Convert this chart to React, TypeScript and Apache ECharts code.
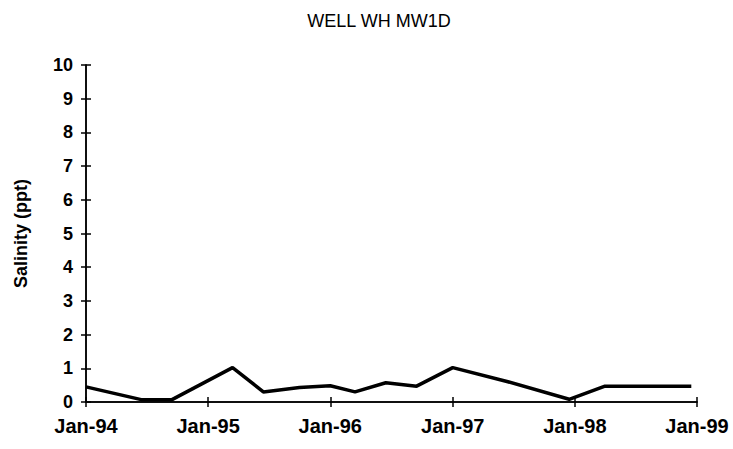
import React, { useEffect, useRef } from "react";
import * as echarts from "echarts";

const sampleDates = [
  "1994-01-01", "1994-06-15", "1994-09-15", "1995-03-15", "1995-06-15",
  "1995-10-01", "1996-01-01", "1996-03-15", "1996-06-15", "1996-09-15",
  "1997-01-01", "1997-06-15", "1997-12-15", "1998-04-01", "1998-12-15",
];
const salinity = [0.45, 0.07, 0.07, 1.02, 0.3, 0.43, 0.48, 0.3, 0.57, 0.47, 1.02, 0.6, 0.08, 0.47, 0.47];
const tickDates = ["1994-01-01", "1995-01-01", "1996-01-01", "1997-01-01", "1998-01-01", "1999-01-01"];
const tickLabels = ["Jan-94", "Jan-95", "Jan-96", "Jan-97", "Jan-98", "Jan-99"];

const ts = (d: string) => Date.parse(d + "T00:00:00Z");

export default function App() {
  const ref = useRef<HTMLDivElement>(null);
  useEffect(() => {
    if (!ref.current) return;
    const chart = echarts.init(ref.current, null, { renderer: "svg" });
    const tickTs = tickDates.map(ts);
    const font = "'Liberation Sans', Arial, sans-serif";
    const xBase = {
      type: "value" as const,
      min: tickTs[0],
      max: tickTs[tickTs.length - 1],
      splitLine: { show: false },
      axisLine: { lineStyle: { color: "#000", width: 1.5 } },
    };
    const yBase = {
      type: "value" as const,
      min: 0,
      max: 10,
      interval: 1,
      splitLine: { show: false },
      axisLine: { lineStyle: { color: "#000", width: 1.5 } },
    };
    chart.setOption({
      animation: false,
      backgroundColor: "#fff",
      title: {
        text: "WELL WH MW1D",
        left: 374,
        top: 7,
        textAlign: "center",
        textStyle: { fontFamily: font, fontSize: 18, fontWeight: "normal", color: "#000" },
      },
      grid: { left: 86, right: 36, top: 65, bottom: 47 },
      xAxis: [
        {
          ...xBase,
          axisTick: { customValues: tickTs, length: 5, lineStyle: { color: "#000", width: 1.5 } },
          axisLabel: {
            customValues: tickTs,
            formatter: (v: number) => tickLabels[tickTs.indexOf(v)] ?? "",
            fontFamily: font,
            fontSize: 20,
            fontWeight: "bold",
            color: "#000",
            margin: 14,
          },
        },
        {
          ...xBase,
          position: "bottom",
          axisTick: { customValues: tickTs, inside: true, length: 5, lineStyle: { color: "#000", width: 1.5 } },
          axisLabel: { show: false },
        },
      ],
      yAxis: [
        {
          ...yBase,
          name: "Salinity (ppt)",
          nameLocation: "middle",
          nameGap: 56,
          nameTextStyle: { fontFamily: font, fontSize: 18, fontWeight: "bold", color: "#000" },
          axisTick: { show: true, length: 5, lineStyle: { color: "#000", width: 1.5 } },
          axisLabel: { fontFamily: font, fontSize: 18, fontWeight: "bold", color: "#000", margin: 13 },
        },
        {
          ...yBase,
          position: "left",
          axisTick: { show: true, inside: true, length: 5, lineStyle: { color: "#000", width: 1.5 } },
          axisLabel: { show: false },
        },
      ],
      series: [
        {
          type: "line",
          data: sampleDates.map((d, i) => [ts(d), salinity[i]]),
          showSymbol: false,
          lineStyle: { color: "#000", width: 3.5 },
          xAxisIndex: 0,
          yAxisIndex: 0,
        },
      ],
    });
    return () => chart.dispose();
  }, []);
  return <div ref={ref} style={{ width: 733, height: 449, position: "absolute", left: 0, top: 0 }} />;
}
